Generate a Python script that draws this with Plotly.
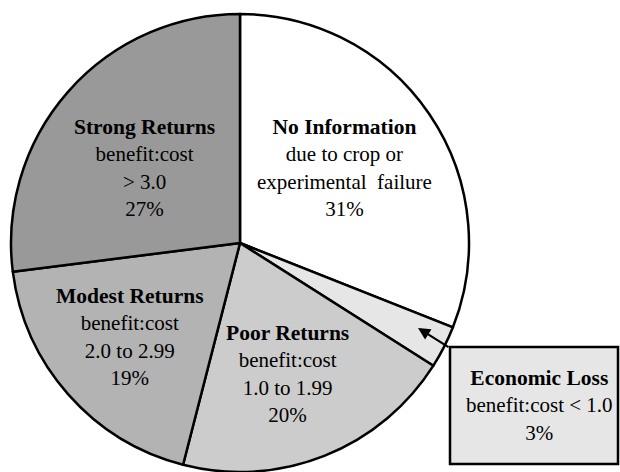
import plotly.graph_objects as go

W, H = 620, 472

categories = ["No Information", "Economic Loss", "Poor Returns", "Modest Returns", "Strong Returns"]
values = [31, 3, 20, 19, 27]
subtitles = ["due to crop or<br>experimental  failure", "benefit:cost &lt; 1.0",
             "benefit:cost<br>1.0 to 1.99", "benefit:cost<br>2.0 to 2.99", "benefit:cost<br>&gt; 3.0"]
colors = ["#ffffff", "#e6e6e6", "#cccccc", "#b3b3b3", "#999999"]

FONT = "Liberation Serif, Times New Roman, serif"


def px(x):
    return x / W


def py(y):
    return 1 - y / H


cx, cy, r = 240, 243, 229
fig = go.Figure(go.Pie(
    labels=categories, values=values, sort=False, direction="clockwise", rotation=0,
    textinfo="none", hoverinfo="label+percent",
    marker=dict(colors=colors, line=dict(color="#000000", width=2.5)),
    domain=dict(x=[px(cx - r), px(cx + r)], y=[max(0, py(cy + r)), py(cy - r)]),
    showlegend=False,
))

# label block centers (screen pixel coords from top-left)
label_pos = {
    "No Information": (344, 168),
    "Poor Returns": (287, 374),
    "Modest Returns": (130, 337),
    "Strong Returns": (144, 168),
    "Economic Loss": (539, 405),
}
annotations = []
for cat, val, sub in zip(categories, values, subtitles):
    x, y = label_pos[cat]
    annotations.append(dict(
        x=px(x), y=py(y), xref="paper", yref="paper", showarrow=False,
        text=f"<b><span style='font-size:21.5px'>{cat}</span></b><br>{sub}<br>{val}%",
        align="center",
        font=dict(family=FONT, size=21, color="#000000"),
        xanchor="center", yanchor="middle",
    ))

# arrow from callout box to the Economic Loss slice
annotations.append(dict(
    x=px(418), y=py(328), xref="paper", yref="paper",
    ax=32, ay=20, axref="pixel", ayref="pixel",
    showarrow=True, arrowhead=2, arrowsize=1.1, arrowwidth=2.2, arrowcolor="#000000",
    text="",
))

shapes = [dict(
    type="rect", xref="paper", yref="paper",
    x0=px(450), x1=px(618), y0=py(464), y1=py(347),
    fillcolor="#e6e6e6", line=dict(color="#000000", width=2.5), layer="below",
)]

fig.update_layout(
    width=W, height=H, margin=dict(l=0, r=0, t=0, b=0),
    paper_bgcolor="#ffffff", plot_bgcolor="#ffffff",
    annotations=annotations, shapes=shapes,
)

fig.write_html(
    "out.html",
    config={"displayModeBar": False},
    post_script="document.body.style.margin='0';document.body.style.overflow='hidden';",
)
